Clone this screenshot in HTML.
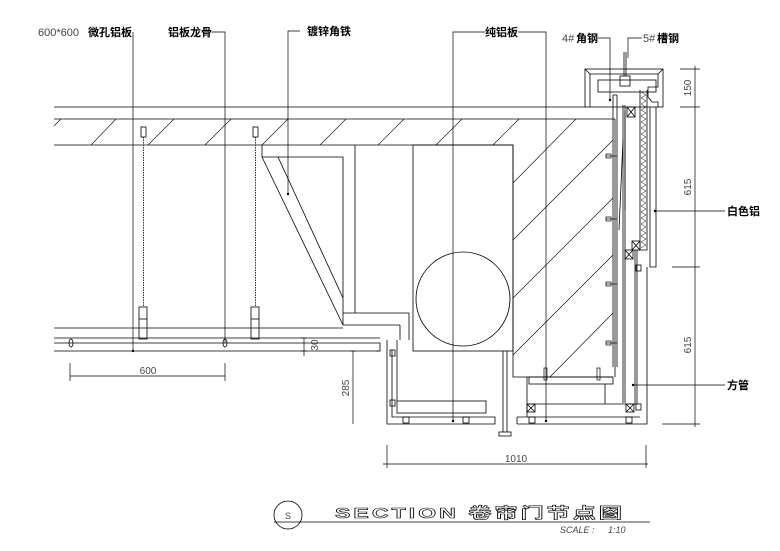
<!DOCTYPE html>
<html><head><meta charset="utf-8"><style>
html,body{margin:0;padding:0;background:#fff;}
svg{display:block;}
text{font-family:"Liberation Sans","Noto Sans CJK SC",sans-serif;}
</style></head><body>
<svg width="780" height="551" viewBox="0 0 780 551" xmlns="http://www.w3.org/2000/svg">
<g stroke="#000" stroke-width="0.8" fill="none">
<!-- slab -->
<line x1="54" y1="107" x2="585" y2="107"/>
<line x1="54" y1="119" x2="615" y2="119"/>
<line x1="54" y1="145" x2="513" y2="145"/>
<!-- slab hatch -->
<g stroke-width="0.6">
<line x1="54" y1="126" x2="61" y2="119"/>
<line x1="91" y1="145" x2="116" y2="119"/>
<line x1="148" y1="145" x2="174" y2="119"/>
<line x1="205" y1="145" x2="231" y2="119"/>
<line x1="262" y1="145" x2="288" y2="119"/>
<line x1="320" y1="145" x2="346" y2="119"/>
<line x1="378" y1="145" x2="404" y2="119"/>
<line x1="436" y1="145" x2="462" y2="119"/>
<line x1="493" y1="145" x2="519" y2="119"/>
<line x1="513" y1="183" x2="576" y2="119"/>
<line x1="513" y1="240" x2="613" y2="140"/>
<line x1="513" y1="298" x2="613" y2="198"/>
<line x1="513" y1="355" x2="613" y2="255"/>
<line x1="550" y1="377" x2="613" y2="313"/>
</g>
<!-- hatched block -->
<polyline points="513,145 513,377 613,377"/>
<line x1="615" y1="119" x2="615" y2="377"/>
<!-- box and circle -->
<rect x="413" y="145" width="100" height="206"/>
<circle cx="463" cy="299" r="47"/>
<!-- angle bracket -->
<polyline points="262,145 262,157 343,157 343,325 262,157"/>
<line x1="278" y1="157" x2="343" y2="298"/>
<line x1="355" y1="145" x2="355" y2="313"/>
<line x1="343" y1="313" x2="409" y2="313"/>
<line x1="343" y1="325" x2="400" y2="325"/>
<line x1="409" y1="313" x2="409" y2="340"/>
<line x1="400" y1="325" x2="400" y2="340"/>
<!-- ceiling lines -->
<line x1="54" y1="328" x2="343" y2="328"/>
<line x1="54" y1="338" x2="380" y2="338"/>
<line x1="54" y1="343" x2="355" y2="343"/>
<line x1="54" y1="351" x2="380" y2="351"/>
<polyline points="355,343 380,343 380,351 376,351"/>
<!-- hangers -->
<g>
<rect x="141" y="127" width="5" height="10"/><line x1="143.5" y1="137" x2="143.5" y2="307" stroke-dasharray="1.5,1"/>
<rect x="139" y="307" width="8" height="32"/><line x1="139" y1="319" x2="147" y2="319"/>
<rect x="253" y="127" width="5" height="10"/><line x1="255.5" y1="137" x2="255.5" y2="307" stroke-dasharray="1.5,1"/>
<rect x="251" y="307" width="8" height="32"/><line x1="251" y1="319" x2="259" y2="319"/>
<ellipse cx="71" cy="343" rx="2" ry="4"/>
<ellipse cx="225" cy="343" rx="2" ry="4"/>
</g>
<!-- left lower U frame -->
<polyline points="387,340 387,424 495,424 495,417 392,417 392,350"/>
<line x1="397" y1="340" x2="397" y2="401"/>
<rect x="397" y="401" width="89" height="12"/>
<rect x="390" y="350" width="5" height="6"/>
<rect x="390" y="400" width="5" height="6"/>
<rect x="403" y="417" width="6" height="6"/>
<rect x="463" y="417" width="6" height="6"/>
<!-- pole -->
<line x1="503" y1="351" x2="503" y2="432"/><line x1="507" y1="351" x2="507" y2="432"/>
<rect x="499" y="432" width="12" height="4"/>
<!-- right lower U frame -->
<polyline points="517,424 647,424 647,267"/>
<line x1="517" y1="417" x2="517" y2="424"/>
<line x1="517" y1="417" x2="640" y2="417"/>
<line x1="527" y1="377" x2="527" y2="417"/>
<rect x="529" y="377" width="84" height="7"/>
<line x1="605" y1="384" x2="605" y2="404"/>
<line x1="527" y1="404" x2="637" y2="404"/>
<rect x="527" y="404" width="8" height="8"/><line x1="527" y1="404" x2="535" y2="412"/><line x1="535" y1="404" x2="527" y2="412"/>
<rect x="626" y="404" width="8" height="8"/><line x1="626" y1="404" x2="634" y2="412"/><line x1="634" y1="404" x2="626" y2="412"/>
<rect x="529" y="417" width="6" height="6"/>
<rect x="626" y="417" width="6" height="6"/>
<rect x="636" y="404" width="5" height="6"/>
<!-- vertical steel -->
<line x1="613" y1="95" x2="613" y2="367"/><line x1="617" y1="95" x2="617" y2="367"/>
<line x1="613" y1="95" x2="617" y2="95"/>
<line x1="623" y1="105" x2="623" y2="403"/><line x1="625" y1="105" x2="625" y2="403"/>
<line x1="635" y1="250" x2="635" y2="404"/><line x1="637" y1="250" x2="637" y2="404"/>
<line x1="625" y1="111" x2="625" y2="210"/>
<line x1="619" y1="230" x2="623" y2="140"/>
<rect x="627" y="107" width="8" height="10"/><line x1="627" y1="107" x2="635" y2="117"/><line x1="635" y1="107" x2="627" y2="117"/>
<rect x="632" y="241" width="8" height="9"/><line x1="632" y1="241" x2="640" y2="250"/><line x1="640" y1="241" x2="632" y2="250"/>
<rect x="625" y="250" width="8" height="9"/><line x1="625" y1="250" x2="633" y2="259"/><line x1="633" y1="250" x2="625" y2="259"/>
<rect x="636" y="265" width="5" height="6"/>
<!-- bolts -->
<g stroke-width="0.7">
<line x1="606" y1="156" x2="617" y2="156"/><rect x="606" y="154" width="5" height="4"/>
<line x1="606" y1="219" x2="617" y2="219"/><rect x="606" y="217" width="5" height="4"/>
<line x1="606" y1="284" x2="617" y2="284"/><rect x="606" y="282" width="5" height="4"/>
<line x1="606" y1="343" x2="617" y2="343"/><rect x="606" y="341" width="5" height="4"/>
<rect x="544" y="368" width="3" height="12"/>
<rect x="597" y="368" width="3" height="12"/>
</g>
<!-- top box -->
<rect x="585" y="69" width="78" height="38"/>
<polyline points="590,107 590,74 658,74 658,87 648,87 648,97 652,102 658,102 658,107"/>
<line x1="585" y1="69" x2="590" y2="74"/><line x1="663" y1="69" x2="658" y2="74"/>
<rect x="598" y="80" width="58" height="12"/>
<rect x="620" y="76" width="10" height="10"/>
<line x1="624" y1="52" x2="624" y2="76"/><line x1="626" y1="52" x2="626" y2="76"/>
<polyline points="650,107 650,267 656,267 656,107"/>
<polyline points="640,90 640,250 647,250 647,90"/>
<path d="M641,92 l5,3 l-5,3 l5,3 l-5,3 l5,3 l-5,3 l5,3 l-5,3 l5,3 l-5,3 l5,3 l-5,3 l5,3 l-5,3 l5,3 l-5,3 l5,3 l-5,3 l5,3 l-5,3 l5,3 l-5,3 l5,3 l-5,3 l5,3 l-5,3 l5,3 l-5,3 l5,3 l-5,3 l5,3 l-5,3 l5,3 l-5,3 l5,3 l-5,3 l5,3 l-5,3 l5,3 l-5,3 l5,3 l-5,3 l5,3 l-5,3 l5,3 l-5,3 l5,3 l-5,3 l5,3 l-5,3 l5,3 l-5,3" stroke-width="0.5"/>
<!-- leaders -->
<g stroke-width="0.7">
<line x1="133" y1="32" x2="133" y2="351"/>
<polyline points="212,32 225,32 225,343"/>
<polyline points="300,31 288,31 288,195"/>
<polyline points="485,32 453,32 453,422"/>
<polyline points="518,32 546,32 546,422"/>
<polyline points="598,38 610,38 610,100"/>
<polyline points="642,38 628,38 628,58"/>
<line x1="655" y1="211" x2="725" y2="211"/>
<line x1="633" y1="385" x2="725" y2="385"/>
</g>
<!-- dims -->
<g stroke-width="0.7">
<line x1="70" y1="376" x2="225" y2="376"/>
<line x1="70" y1="363" x2="70" y2="381"/><line x1="225" y1="363" x2="225" y2="381"/>
<line x1="304" y1="338" x2="304" y2="356"/>
<line x1="301" y1="338" x2="307" y2="338"/><line x1="301" y1="351" x2="307" y2="351"/>
<line x1="353" y1="351" x2="353" y2="424"/>
<line x1="350" y1="351" x2="356" y2="351"/>
<line x1="695" y1="66" x2="695" y2="427"/>
<line x1="680" y1="69" x2="700" y2="69"/>
<line x1="680" y1="107" x2="700" y2="107"/>
<line x1="672" y1="267" x2="700" y2="267"/>
<line x1="662" y1="424" x2="700" y2="424"/>
<line x1="383" y1="464" x2="648" y2="464"/>
<line x1="387" y1="445" x2="387" y2="468"/><line x1="646" y1="445" x2="646" y2="468"/>
</g>
<!-- title -->
<circle cx="288" cy="515" r="14"/>
<line x1="274" y1="522" x2="650" y2="522"/>
</g>
<g fill="#000">
<circle cx="133" cy="351" r="1.2"/><circle cx="288" cy="194" r="1.2"/>
<circle cx="453" cy="421" r="1.2"/><circle cx="546" cy="421" r="1.2"/>
<circle cx="610" cy="100" r="1.2"/><circle cx="655" cy="211" r="1.2"/><circle cx="633" cy="385" r="1.2"/>
</g>
<g font-size="11" fill="#000">
<text x="38" y="36" fill="#444">600*600</text><text x="88" y="36" font-weight="bold">微孔铝板</text>
<text x="168" y="36" font-weight="bold">铝板龙骨</text>
<text x="307" y="35" font-weight="bold">镀锌角铁</text>
<text x="485" y="36" font-weight="bold">纯铝板</text>
<text x="562" y="42" fill="#444">4#</text><text x="576" y="42" font-weight="bold">角钢</text>
<text x="643" y="42" fill="#444">5#</text><text x="657" y="42" font-weight="bold">槽钢</text>
<text x="727" y="215" font-weight="bold">白色铝</text>
<text x="727" y="389" font-weight="bold">方管</text>
</g>
<g font-size="10" fill="#444" text-anchor="middle">
<text x="148" y="374">600</text>
<text x="516" y="462">1010</text>
<text transform="translate(318,345) rotate(-90)">30</text>
<text transform="translate(349,388) rotate(-90)">285</text>
<text transform="translate(691,88) rotate(-90)">150</text>
<text transform="translate(691,187) rotate(-90)">615</text>
<text transform="translate(691,345) rotate(-90)">615</text>
<text x="288" y="519" font-size="9">S</text>
</g>
<text x="335" y="518" font-size="15" font-weight="bold" fill="#fff" stroke="#000" stroke-width="0.6" letter-spacing="2" textLength="290" lengthAdjust="spacingAndGlyphs">SECTION 卷帘门节点图</text>
<text x="560" y="533" font-size="9" font-style="italic" fill="#444">SCALE :</text>
<text x="608" y="533" font-size="9" font-style="italic" fill="#444">1:10</text>
</svg>
</body></html>
